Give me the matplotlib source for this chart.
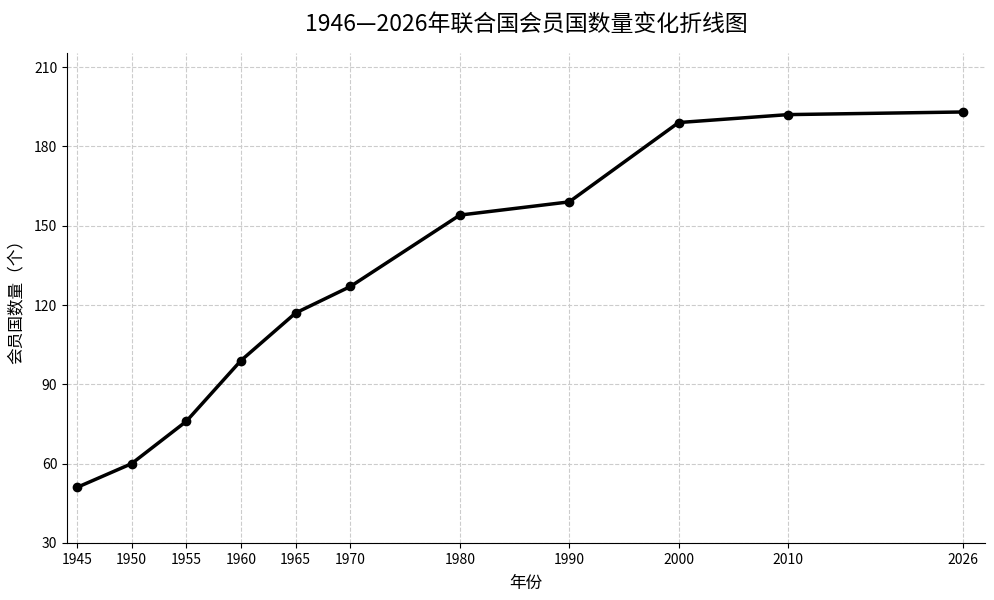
import matplotlib
matplotlib.use("Agg")
import matplotlib.pyplot as plt

plt.rcParams['font.family'] = ['Noto Sans CJK SC', 'DejaVu Sans']
plt.rcParams['axes.unicode_minus'] = False

years = [1945, 1950, 1955, 1960, 1965, 1970, 1980, 1990, 2000, 2010, 2026]
members = [51, 60, 76, 99, 117, 127, 154, 159, 189, 192, 193]
yticks = [30, 60, 90, 120, 150, 180, 210]

fig = plt.figure(figsize=(9.94, 6), dpi=100)
ax = fig.add_axes([67/994, 1-543/600, (985-67)/994, (543-53)/600])
ax.plot(years, members, color='black', linewidth=2.5, marker='o', markersize=6, zorder=3)
ax.set_xticks(years)
ax.set_xticklabels([str(y) for y in years], fontsize=10)
ax.set_yticks(yticks)
ax.tick_params(labelsize=10)
ax.set_xlim(1944.1, 2028)
ax.set_ylim(30, 215.3)
ax.grid(True, linestyle='--', color='#cccccc', linewidth=0.8)
ax.spines['top'].set_visible(False)
ax.spines['right'].set_visible(False)
ax.set_xlabel('年份', fontsize=12, labelpad=6)
ax.set_ylabel('会员国数量（个）', fontsize=12, labelpad=6)
fig.text((67+985)/2/994, 1-24/600, '1946—2026年联合国会员国数量变化折线图', ha='center', va='center', fontsize=16.5)
fig.savefig('out.png', dpi=100)
